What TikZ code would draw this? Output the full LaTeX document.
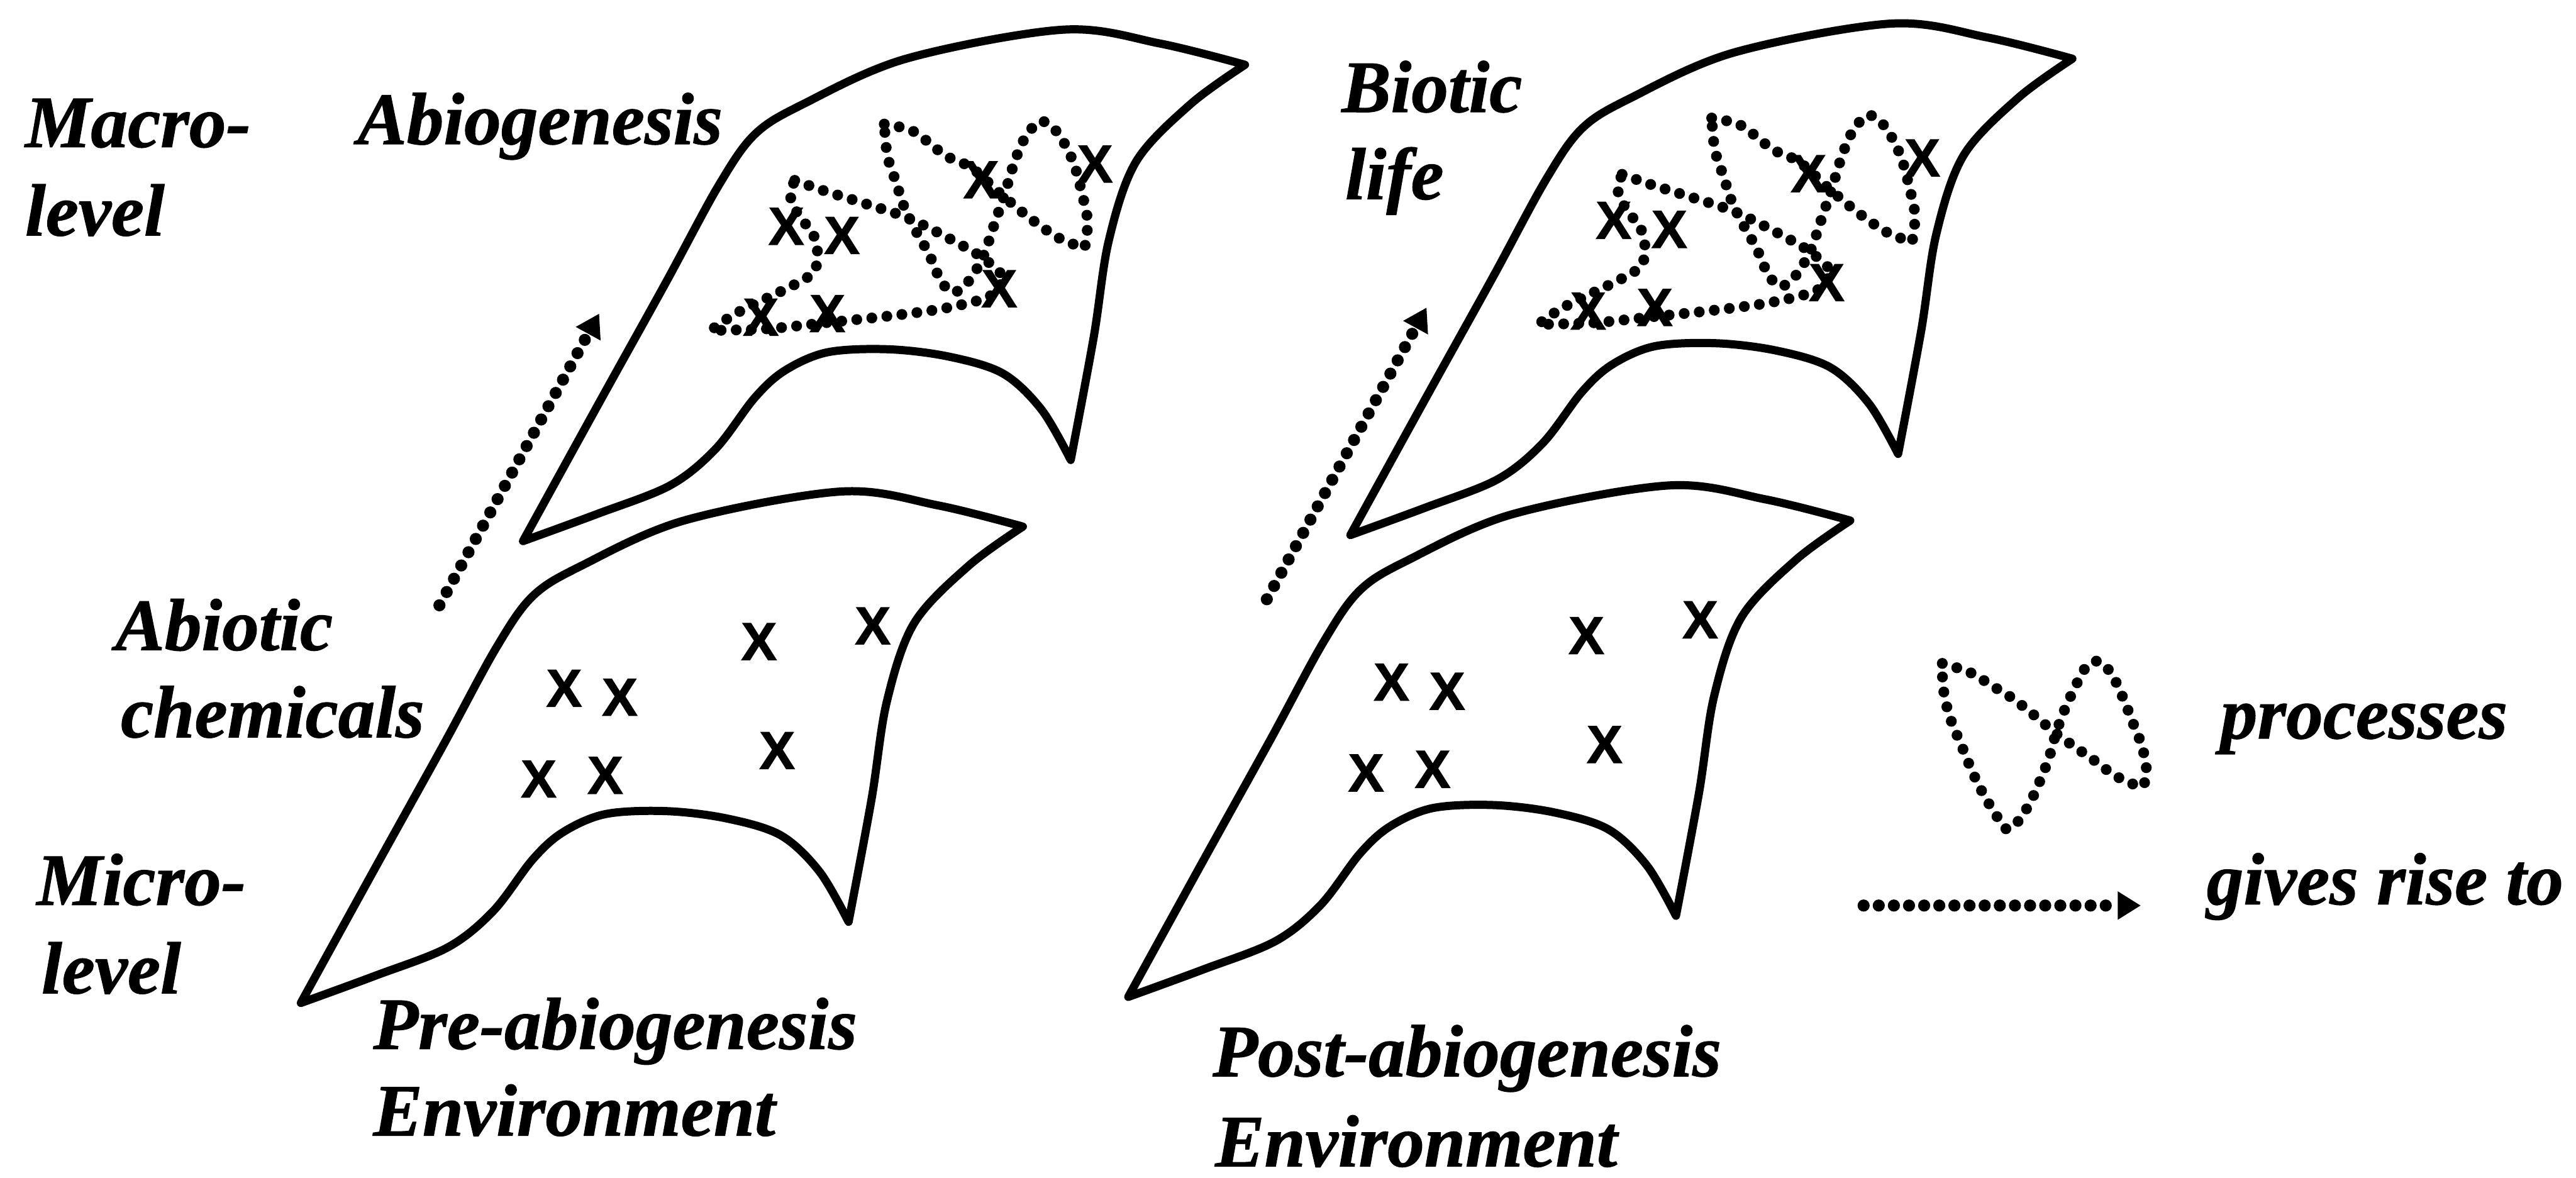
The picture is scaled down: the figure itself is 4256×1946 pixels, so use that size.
\documentclass[tikz,border=0pt]{standalone}
\usepackage{fontspec}
\setmainfont{Liberation Serif}[BoldItalicFeatures={FakeBold=1}]
\newfontfamily\crossfont{Liberation Sans}[BoldFeatures={FakeBold=1.6}]
\usetikzlibrary{arrows.meta}

% outline of one environment sheet (pixel units, lower left copy)
\newcommand{\sheetpath}{%
  plot[smooth, tension=0.55] coordinates {(497,1657) (622,1430) (733,1230) (820,1070) (880,985) (960,935) (1130,860) (1390,812) (1550,835) (1690,870)}
  -- plot[smooth, tension=0.55] coordinates {(1690,870) (1600,935) (1510,1030) (1465,1160) (1440,1320) (1402,1523)}
  -- plot[smooth, tension=0.55] coordinates {(1402,1523) (1354,1440) (1290,1380) (1200,1352) (1100,1340) (1000,1345) (930,1375) (880,1420) (815,1505) (740,1565) (620,1612) (497,1657)}
  -- cycle}

% the seven chemicals on one sheet
\newcommand{\chemicals}[1]{%
  \node[chem] (#1-1) at (932,1137) {X};
  \node[chem] (#1-2) at (1024,1152) {X};
  \node[chem] (#1-3) at (1254,1060) {X};
  \node[chem] (#1-4) at (1442,1034) {X};
  \node[chem] (#1-5) at (890,1287) {X};
  \node[chem] (#1-6) at (1000,1281) {X};
  \node[chem] (#1-7) at (1284,1240) {X};
}

\begin{document}
\begin{tikzpicture}[
  x=0.1mm, y=-0.1mm,
  font=\fontsize{34.7}{41.6}\selectfont\bfseries\itshape,
  sheet/.style={draw=black, line width=1.35mm, line join=round},
  chem/.style={font=\fontsize{25}{25}\selectfont\crossfont\upshape\bfseries, inner sep=0pt},
  lbl/.style={anchor=base west, inner sep=0pt},
  proc/.style={line width=1.8mm, line cap=round, dash pattern=on 0pt off 2.5mm},
  rise/.style={proc, line width=2mm, -{Triangle[length=3.8mm, width=4.4mm]}},
]
\useasboundingbox (0,0) rectangle (4256,1946);

\foreach \side/\dx/\dy in {l/0/0, r/1367/-10} {
  \begin{scope}[shift={(\dx,\dy)}]
    % micro-level sheet
    \draw[sheet] \sheetpath;
    \chemicals{micro-\side}
    % macro-level sheet
    \begin{scope}[shift={(367,-763)}]
      \draw[sheet] \sheetpath;
      \chemicals{macro-\side}
    \end{scope}
    % processes on the macro sheet
    \draw[proc] plot[smooth] coordinates {(1313,298) (1361,315) (1428,336) (1500,360) (1572,396) (1624,426) (1660,458)}
      -- plot[smooth] coordinates {(1660,458) (1634,490) (1557,510) (1461,523) (1366,533) (1270,543) (1174,546)}
      -- plot[smooth] coordinates {(1174,546) (1212,520) (1260,496) (1313,470) (1344,450) (1351,420) (1342,383) (1322,360) (1306,325) (1313,298)};
    \draw[proc] plot[smooth] coordinates {(1461,205) (1509,217) (1562,257) (1605,277) (1653,320) (1701,360) (1749,393) (1792,410)}
      -- plot[smooth] coordinates {(1792,410) (1797,366) (1787,317) (1773,267) (1748,220) (1720,200) (1695,225) (1677,265) (1660,320) (1643,370) (1624,425) (1600,465) (1576,483) (1555,465) (1535,420) (1514,383) (1495,345) (1480,300) (1466,257) (1461,205)};
    % gives rise to
    \coordinate (rise-\side-from) at (726,1000);
    \coordinate (rise-\side-to) at (990,518);
    \draw[rise] (rise-\side-from) -- (rise-\side-to);
  \end{scope}
}

\node[lbl] (macro1) at (41,243) {Macro-};
\node[lbl] (macro2) at (41,389) {level};
\node[lbl] (abiogen) at (590,238) {Abiogenesis};
\node[lbl] (biotic1) at (2216,185) {Biotic};
\node[lbl] (biotic2) at (2222,329) {life};
\node[lbl] (abiotic1) at (190,1074) {Abiotic};
\node[lbl] (abiotic2) at (199,1218) {chemicals};
\node[lbl] (micro1) at (60,1495) {Micro-};
\node[lbl] (micro2) at (68,1641) {level};
\node[lbl] (pre1) at (616,1733) {Pre-abiogenesis};
\node[lbl] (pre2) at (616,1876) {Environment};
\node[lbl] (post1) at (2003,1778) {Post-abiogenesis};
\node[lbl] (post2) at (2007,1927) {Environment};

% legend
\draw[proc] plot[smooth] coordinates {(3209,1096) (3255,1111) (3293,1134) (3324,1153) (3354,1176) (3400,1214) (3461,1257) (3492,1280) (3523,1295) (3542,1299)}
  -- plot[smooth] coordinates {(3542,1299) (3546,1268) (3538,1230) (3523,1192) (3511,1161) (3495,1125) (3480,1102) (3465,1092) (3448,1100) (3436,1120) (3423,1146) (3408,1180) (3396,1214) (3385,1253) (3370,1291) (3354,1326) (3335,1356) (3316,1370) (3300,1350) (3278,1314) (3259,1276) (3240,1230) (3224,1192) (3213,1153) (3209,1115) (3209,1096)};
\node[lbl] (procs) at (3668,1220) {processes};
\coordinate (key-from) at (3079,1496);
\coordinate (key-to) at (3537,1496);
\draw[rise] (key-from) -- (key-to);
\node[lbl] (gives) at (3645,1494) {gives rise to};
\end{tikzpicture}
\end{document}
